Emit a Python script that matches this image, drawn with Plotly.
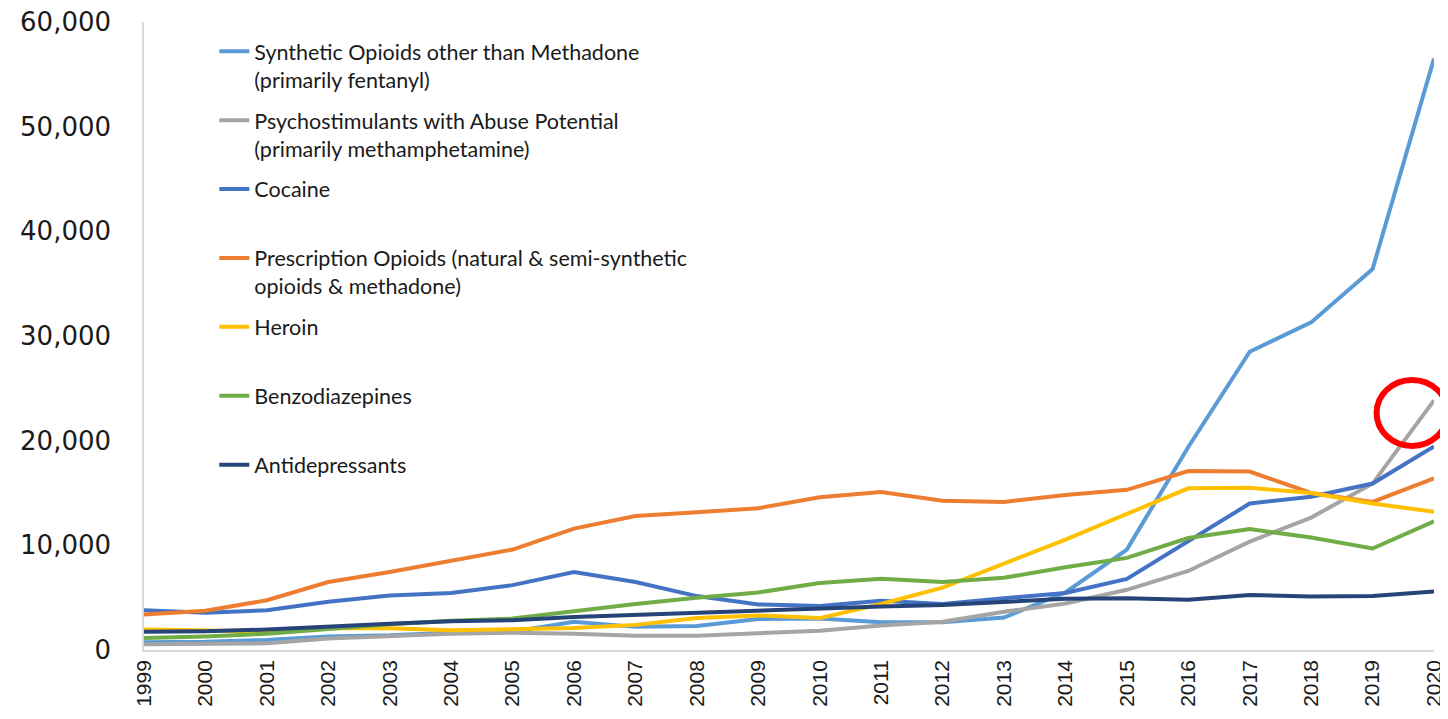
import plotly.graph_objects as go

years = list(range(1999, 2021))

synthetic = [730, 780, 960, 1300, 1400, 1660, 1740, 2700, 2210, 2300, 2950, 3000,
             2650, 2650, 3100, 5500, 9600, 19400, 28500, 31300, 36400, 56500]
psychostim = [550, 580, 640, 1100, 1300, 1550, 1650, 1550, 1350, 1350, 1600, 1850,
              2350, 2700, 3650, 4450, 5750, 7550, 10350, 12650, 15900, 23850]
cocaine = [3800, 3550, 3800, 4600, 5200, 5450, 6200, 7450, 6500, 5150, 4350, 4200,
           4700, 4400, 4950, 5450, 6800, 10350, 14000, 14650, 15900, 19450]
prescription = [3400, 3750, 4750, 6500, 7450, 8500, 9600, 11600, 12800, 13150, 13550, 14600,
                15100, 14250, 14150, 14800, 15300, 17100, 17050, 15000, 14150, 16400]
heroin = [1960, 1850, 1780, 2100, 2080, 1880, 2000, 2100, 2400, 3050, 3300, 3050,
          4400, 5950, 8250, 10550, 13000, 15450, 15500, 15000, 14000, 13200]
benzo = [1150, 1300, 1550, 2000, 2450, 2800, 3000, 3700, 4400, 5000, 5500, 6400,
         6800, 6500, 6900, 7900, 8800, 10700, 11550, 10750, 9700, 12300]
antidep = [1750, 1800, 1950, 2250, 2500, 2750, 2850, 3150, 3350, 3600, 3750, 4000,
           4150, 4300, 4600, 4900, 4950, 4800, 5250, 5100, 5150, 5600]

series = [
    ("Synthetic Opioids other than Methadone<br>(primarily fentanyl)", synthetic, "#5B9BD5"),
    ("Psychostimulants with Abuse Potential<br>(primarily methamphetamine)", psychostim, "#A5A5A5"),
    ("Cocaine<br> ", cocaine, "#4472C4"),
    ("Prescription Opioids (natural & semi-synthetic<br>opioids & methadone)", prescription, "#ED7D31"),
    ("Heroin<br> ", heroin, "#FFC000"),
    ("Benzodiazepines<br> ", benzo, "#70AD47"),
    ("Antidepressants<br> ", antidep, "#264478"),
]

fig = go.Figure()

for i, (name, vals, color) in enumerate(series):
    fig.add_trace(go.Scatter(
        x=years,
        y=vals,
        name=name,
        mode='lines',
        legendgroup=str(i),
        line=dict(color=color, width=4),
    ))

# red highlight circle around 2020 psychostimulants
fig.add_shape(type='circle', xref='paper', yref='paper',
              x0=0.9555, x1=1.0105, y0=0.325, y1=0.43,
              line=dict(color='#FF0000', width=6))

# the page body is offset by 8px, so shrink the figure to end at the window edge
fig.update_layout(
    width=1440,
    height=711,
    margin=dict(l=136, r=14, t=14, b=69),
    paper_bgcolor='white',
    plot_bgcolor='white',
    showlegend=True,
    legend=dict(
        x=0.0545, y=0.986, xanchor='left', yanchor='top',
        font=dict(family='Lato, sans-serif', size=21.5, color='#1a1a1a'),
        valign='top',
        tracegroupgap=10,
        bgcolor='rgba(0,0,0,0)',
    ),
    xaxis=dict(
        range=[1999, 2020],
        tickmode='array',
        tickvals=years,
        ticktext=[str(y) for y in years],
        tickangle=-90,
        tickfont=dict(family='Liberation Sans, Arial, sans-serif', size=21, color='#1a1a1a'),
        showgrid=False,
        zeroline=False,
        showline=True,
        linecolor='#D9D9D9',
        linewidth=1.5,
        ticks='',
        automargin=False,
        ticklabeloverflow='allow',
    ),
    yaxis=dict(
        range=[0, 60000],
        tickvals=[0, 10000, 20000, 30000, 40000, 50000, 60000],
        tickformat=',',
        tickfont=dict(family='DejaVu Sans, sans-serif', size=26, color='#1a1a1a'),
        showgrid=False,
        zeroline=False,
        showline=True,
        linecolor='#D9D9D9',
        linewidth=1.5,
        ticks='',
        ticklabelstandoff=26,
        automargin=False,
        ticklabeloverflow='allow',
    ),
)

fig.write_html("out.html")
